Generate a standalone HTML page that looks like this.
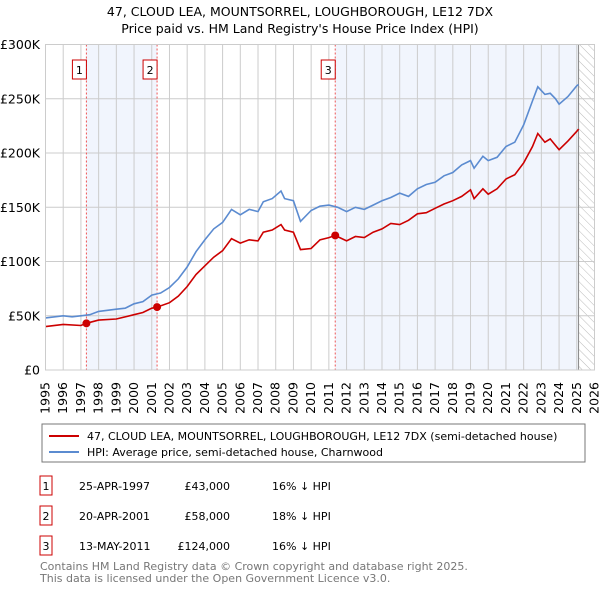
<!DOCTYPE html>
<html><head><meta charset="utf-8"><style>
body{margin:0;background:#fff;font-family:"DejaVu Sans","Liberation Sans",sans-serif;}
#wrap{position:relative;width:600px;height:590px;overflow:hidden;}
svg text{font-family:"DejaVu Sans","Liberation Sans",sans-serif;}
.xt{position:absolute;font-size:12.5px;line-height:14px;width:14px;height:34px;white-space:nowrap;writing-mode:vertical-rl;writing-mode:sideways-lr;text-align:left;}
</style></head><body>
<div id="wrap">
<svg id="c" width="600" height="590" viewBox="0 0 600 590" xmlns="http://www.w3.org/2000/svg" style="position:absolute;left:0;top:0">
<defs><pattern id="hatch" width="6" height="6" patternUnits="userSpaceOnUse" patternTransform="rotate(-45)"><line x1="0" y1="0" x2="0" y2="6" stroke="#bbb" stroke-width="1"/></pattern></defs>
<text x="300" y="16" text-anchor="middle" font-size="12.5" fill="#000">47, CLOUD LEA, MOUNTSORREL, LOUGHBOROUGH, LE12 7DX</text>
<text x="300" y="33" text-anchor="middle" font-size="12.5" fill="#000">Price paid vs. HM Land Registry's House Price Index (HPI)</text>
<g id="plot"></g>
<rect x="42" y="424" width="543" height="38" fill="#fff" stroke="#777"/>
<line x1="49" y1="436" x2="79" y2="436" stroke="#cc0000" stroke-width="2"/>
<text x="87" y="440" font-size="11">47, CLOUD LEA, MOUNTSORREL, LOUGHBOROUGH, LE12 7DX (semi-detached house)</text>
<line x1="49" y1="452" x2="79" y2="452" stroke="#5b8bd0" stroke-width="2"/>
<text x="87" y="456" font-size="11">HPI: Average price, semi-detached house, Charnwood</text>
<g font-size="11">
<rect x="40" y="476" width="12" height="19" fill="#fff" stroke="#cc0000"/><text x="46" y="490" text-anchor="middle">1</text>
<text x="79" y="490">25-APR-1997</text><text x="230" y="490" text-anchor="end">£43,000</text><text x="272" y="490">16% ↓ HPI</text>
<rect x="40" y="506" width="12" height="19" fill="#fff" stroke="#cc0000"/><text x="46" y="520" text-anchor="middle">2</text>
<text x="79" y="520">20-APR-2001</text><text x="230" y="520" text-anchor="end">£58,000</text><text x="272" y="520">18% ↓ HPI</text>
<rect x="40" y="536" width="12" height="19" fill="#fff" stroke="#cc0000"/><text x="46" y="550" text-anchor="middle">3</text>
<text x="79" y="550">13-MAY-2011</text><text x="230" y="550" text-anchor="end">£124,000</text><text x="272" y="550">16% ↓ HPI</text>
</g>
<text x="40" y="570" font-size="11" fill="#777">Contains HM Land Registry data © Crown copyright and database right 2025.</text>
<text x="40" y="582" font-size="11" fill="#777">This data is licensed under the Open Government Licence v3.0.</text>
</svg>
</div>
<script>
const hpiYears=[1995,1996,1996.5,1997,1997.5,1998,1999,1999.5,2000,2000.5,2001,2001.5,2002,2002.5,2003,2003.5,2004,2004.5,2005,2005.5,2006,2006.5,2007,2007.3,2007.8,2008.3,2008.5,2009,2009.4,2010,2010.5,2011,2011.5,2012,2012.5,2013,2013.5,2014,2014.5,2015,2015.5,2016,2016.5,2017,2017.5,2018,2018.5,2019,2019.2,2019.7,2020,2020.5,2021,2021.5,2022,2022.5,2022.8,2023.2,2023.5,2023.8,2024,2024.5,2025,2025.1];
const hpiValues=[48,50,49,50,51,54,56,57,61,63,69,71,76,84,95,109,120,130,136,148,143,148,146,155,158,165,158,156,137,147,151,152,150,146,150,148,152,156,159,163,160,167,171,173,179,182,189,193,186,197,193,196,206,210,226,248,261,254,255,250,245,252,262,263];
const priceYears=[1995,1996,1997,1997.31,1998,1999,2000,2000.5,2001,2001.3,2002,2002.5,2003,2003.5,2004,2004.5,2005,2005.5,2006,2006.5,2007,2007.3,2007.8,2008.3,2008.5,2009,2009.4,2010,2010.5,2011,2011.36,2012,2012.5,2013,2013.5,2014,2014.5,2015,2015.5,2016,2016.5,2017,2017.5,2018,2018.5,2019,2019.2,2019.7,2020,2020.5,2021,2021.5,2022,2022.5,2022.8,2023.2,2023.5,2023.8,2024,2024.5,2025,2025.1];
const priceValues=[40,42,41,43,46,47,51,53,57,58,62,68,77,88,96,104,110,121,117,120,119,127,129,134,129,127,111,112,120,122,124,119,123,122,127,130,135,134,138,144,145,149,153,156,160,166,158,167,162,167,176,180,191,206,218,210,213,207,203,211,220,222];
const saleYears=[1997.31,2001.3,2011.36];
const saleValues=[43,58,124];
const saleLabels=["1","2","3"];
const yTicks=[0,50,100,150,200,250,300];
const yTickLabels=["£0","£50K","£100K","£150K","£200K","£250K","£300K"];
const xTicks=[1995,1996,1997,1998,1999,2000,2001,2002,2003,2004,2005,2006,2007,2008,2009,2010,2011,2012,2013,2014,2015,2016,2017,2018,2019,2020,2021,2022,2023,2024,2025,2026];

const X0=45.5,X1=594.5,Y0=370,Y1=44.5;
const sx=y=>X0+(y-1995)/(2026-1995)*(X1-X0);
const sy=v=>Y0-v/300*(Y0-Y1);
const NS="http://www.w3.org/2000/svg";
const g=document.getElementById('plot');
const wrap=document.getElementById('wrap');
function mk(t,a){const e=document.createElementNS(NS,t);for(const k in a)e.setAttribute(k,a[k]);g.appendChild(e);return e;}
let r=mk('rect',{x:sx(saleYears[0]),y:Y1,width:sx(saleYears[1])-sx(saleYears[0]),height:Y0-Y1,fill:'#eef3fc',opacity:0.8});


r=mk('rect',{x:sx(saleYears[2]),y:Y1,width:sx(2025.1)-sx(saleYears[2]),height:Y0-Y1,fill:'#eef3fc',opacity:0.8});


r=mk('rect',{x:sx(2025.1),y:Y1,width:X1-sx(2025.1),height:Y0-Y1,fill:'url(#hatch)'});


xTicks.forEach(t=>{const l=mk('line',{x1:sx(t),x2:sx(t),y1:Y1,y2:Y0,stroke:'#ccc'});


const d=document.createElement('div');
d.className='xt';
d.textContent=t;
d.style.left=(sx(t)-7)+'px';
d.style.top='380px';


wrap.appendChild(d);});
yTicks.forEach((t,i)=>{const l=mk('line',{x1:X0,x2:X1,y1:sy(t),y2:sy(t),stroke:'#ccc'});


const tx=mk('text',{x:40,y:sy(t)+4.5,'font-size':'12.5','text-anchor':'end'});tx.textContent=yTickLabels[i];

});
let nl=mk('line',{x1:sx(2025.1),x2:sx(2025.1),y1:Y1,y2:Y0,stroke:'#888'});


saleYears.forEach((s,i)=>{const l=mk('line',{x1:sx(s),x2:sx(s),y1:Y1,y2:Y0,stroke:'#ee5555','stroke-dasharray':'2,2'});


const b=mk('rect',{x:sx(s)-14,y:60,width:14,height:19,fill:'#fff',stroke:'#cc0000'});


const t=mk('text',{x:sx(s)-7,y:74,'font-size':'11','text-anchor':'middle'});t.textContent=saleLabels[i];

});
function path(xs,vs){return xs.map((x,i)=>(i?'L':'M')+sx(x).toFixed(1)+','+sy(vs[i]).toFixed(1)).join('');}
let p=mk('path',{d:path(hpiYears,hpiValues),fill:'none',stroke:'#5b8bd0','stroke-width':1.6});


p=mk('path',{d:path(priceYears,priceValues),fill:'none',stroke:'#cc0000','stroke-width':1.6});


saleYears.forEach((s,i)=>{const c=mk('circle',{cx:sx(s),cy:sy(saleValues[i]),r:4,fill:'#cc0000'});

});
let fr=mk('rect',{x:X0,y:Y1,width:X1-X0,height:Y0-Y1,fill:'none',stroke:'#ccc'});


</script>
</body></html>
